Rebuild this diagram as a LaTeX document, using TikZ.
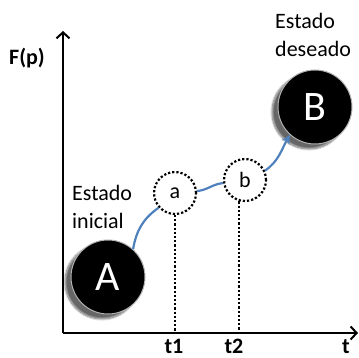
\documentclass[tikz,border=0pt]{standalone}
\usepackage{fontspec}
\setmainfont{Carlito}
\usetikzlibrary{arrows.meta,shadows.blur}

\begin{document}
\begin{tikzpicture}[x=1pt,y=1pt,
  axisline/.style={line width=2.4pt, -{Straight Barb[length=6pt,width=13pt,line width=2pt]}},
  state/.style={circle, fill=black, draw=gray!60, line width=1pt, minimum size=74pt,
    inner sep=0pt, text=white, font=\fontsize{42}{42}\selectfont,
    blur shadow={shadow xshift=-6pt, shadow yshift=-5pt, shadow blur steps=10, shadow opacity=60}},
  midstate/.style={circle, draw=black, line width=2.2pt, dash pattern=on 2.2pt off 2pt,
    minimum size=42pt, inner sep=0pt, font=\fontsize{22}{22}\selectfont},
  path/.style={draw={rgb,255:red,79;green,129;blue,189}, line width=2.2pt},
  dropline/.style={line width=2.2pt, dash pattern=on 2.2pt off 2pt},
  lbl/.style={font=\fontsize{22}{27.5}\selectfont, align=left, inner sep=0pt},
  ticklbl/.style={font=\bfseries\fontsize{22}{22}\selectfont, inner sep=0pt, anchor=south}]

  \useasboundingbox (0,0) rectangle (359,358);

  % === AXES ===
  \coordinate (origin) at (63,25);
  \coordinate (ytip) at (63,327);
  \coordinate (xtip) at (358,25);
  \draw[axisline] (origin) -- (ytip);
  \draw[axisline] (origin) -- (xtip);
  \node[font=\bfseries\fontsize{22}{22}\selectfont] (fp) at (27,300) {F(p)};

  % === STATES ===
  \node[state] (A) at (108,81) {A};
  \node[state] (B) at (315,251) {B};
  \node[midstate] (a) at (175,165) {a};
  \node[midstate] (b) at (245,178) {b};

  % === PATH A -> a -> b -> B ===
  \draw[path] (A.48) to[out=80, in=215] (a.222);
  \draw[path] (a.5) to[out=5, in=185] (b.188);
  \draw[path, -{Stealth[length=9pt,width=9pt]}] (b.25) to[out=35, in=240] (B.228);

  % === DROP LINES ===
  \draw[dropline] (a.south) -- (a.south |- origin);
  \draw[dropline] (b.255) -- (b.255 |- origin);

  % === LABELS ===
  \node[ticklbl] (t1) at (174,4) {t1};
  \node[ticklbl] (t2) at (234,4) {t2};
  \node[ticklbl] (t) at (346,4) {t};
  \node[lbl, anchor=west] (ini) at (72,151) {Estado\\inicial};
  \node[lbl, anchor=west] (des) at (275,323) {Estado\\deseado};

\end{tikzpicture}
\end{document}
